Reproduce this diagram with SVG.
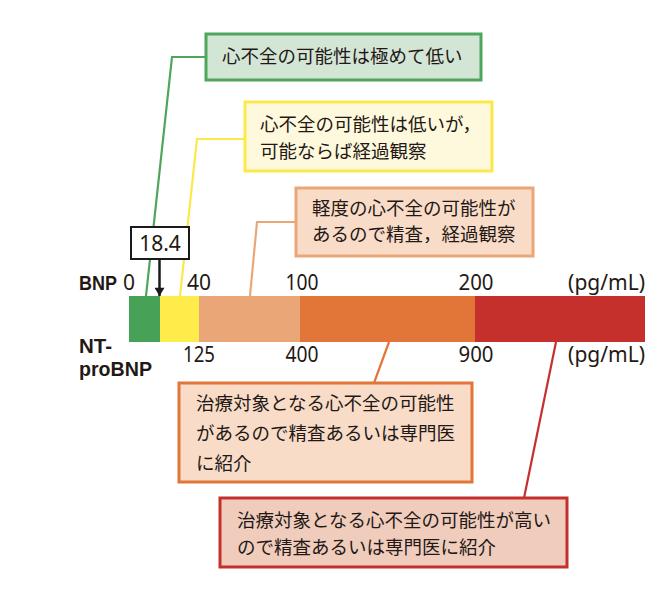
<svg xmlns="http://www.w3.org/2000/svg" width="672" height="592" viewBox="0 0 672 592">
<defs>
<style>
.jp{font-family:"Noto Sans CJK JP","Noto Sans",sans-serif;font-size:18.5px;fill:#231815}
.num{font-family:"Noto Sans","Open Sans",sans-serif;font-size:21px;fill:#231815;text-anchor:middle}
.lab{font-family:"Liberation Sans",Arial,sans-serif;font-size:20px;font-weight:bold;fill:#231815}
.ln{fill:none;stroke-width:2.2}
.box{stroke-width:3}
</style>
<marker id="ah" viewBox="0 0 10 12" refX="10" refY="6" markerWidth="4.4" markerHeight="4" orient="auto" markerUnits="strokeWidth"><path d="M0,0 L10,6 L0,12 z" fill="#1a1a1a"/></marker>
</defs>
<rect width="672" height="592" fill="#ffffff"/>
<g id="connectors">
<polyline class="ln" stroke="#4ea55c" points="206,57 172,57 146,296"/>
<polyline class="ln" stroke="#fbe94a" points="245,139 197,139 180,296"/>
<polyline class="ln" stroke="#eba677" points="296,222 257,222 250,296"/>
<polyline class="ln" stroke="#e27538" points="389,342 374,383"/>
<polyline class="ln" stroke="#c5302c" points="556,342 524,498"/>
<line x1="159.5" y1="259" x2="159.5" y2="296" stroke="#1a1a1a" stroke-width="2.5" marker-end="url(#ah)"/>
</g>
<g id="bar">
<rect x="129" y="296" width="31" height="46" fill="#47a257"/>
<rect x="160" y="296" width="39" height="46" fill="#fdec4a"/>
<rect x="199" y="296" width="101" height="46" fill="#eba677"/>
<rect x="300" y="296" width="175" height="46" fill="#e27538"/>
<rect x="475" y="296" width="170" height="46" fill="#c5302c"/>
</g>
<g id="labels">
<text class="lab" x="79" y="290" textLength="38" lengthAdjust="spacingAndGlyphs">BNP</text>
<text class="num" x="129" y="290">0</text>
<text class="num" x="199" y="290">40</text>
<text class="num" x="302" y="290" textLength="33" lengthAdjust="spacingAndGlyphs">100</text>
<text class="num" x="476" y="290" textLength="35" lengthAdjust="spacingAndGlyphs">200</text>
<text class="num" x="645" y="290" style="text-anchor:end">(pg/mL)</text>
<text class="lab" x="79" y="353" textLength="33" lengthAdjust="spacingAndGlyphs">NT-</text>
<text class="lab" x="79" y="376" textLength="73" lengthAdjust="spacingAndGlyphs">proBNP</text>
<text class="num" x="199" y="362" textLength="32" lengthAdjust="spacingAndGlyphs">125</text>
<text class="num" x="302" y="362" textLength="33" lengthAdjust="spacingAndGlyphs">400</text>
<text class="num" x="476" y="362" textLength="35" lengthAdjust="spacingAndGlyphs">900</text>
<text class="num" x="645" y="362" style="text-anchor:end">(pg/mL)</text>
</g>
<g id="value184">
<rect x="131" y="227" width="58" height="32" fill="#ffffff" stroke="#1a1a1a" stroke-width="2"/>
<text class="num" x="160" y="251">18.4</text>
</g>
<g id="box-green">
<rect class="box" x="206" y="34" width="275" height="46" fill="#d3e6d6" stroke="#4ea55c"/>
<text class="jp" x="222" y="63">心不全の可能性は極めて低い</text>
</g>
<g id="box-yellow">
<rect class="box" x="245" y="102" width="247" height="69" fill="#fef8dc" stroke="#fbe94a"/>
<text class="jp" x="260" y="131">心不全の可能性は低いが，</text>
<text class="jp" x="260" y="158">可能ならば経過観察</text>
</g>
<g id="box-lightorange">
<rect class="box" x="296" y="188" width="237" height="68" fill="#f9dcc8" stroke="#eba677"/>
<text class="jp" x="312" y="215">軽度の心不全の可能性が</text>
<text class="jp" x="312" y="241">あるので精査，経過観察</text>
</g>
<g id="box-orange">
<rect class="box" x="179" y="383" width="293" height="99" fill="#f8dcc8" stroke="#e27538"/>
<text class="jp" x="196" y="410">治療対象となる心不全の可能性</text>
<text class="jp" x="196" y="440">があるので精査あるいは専門医</text>
<text class="jp" x="196" y="470">に紹介</text>
</g>
<g id="box-red">
<rect class="box" x="220" y="498" width="347" height="69" fill="#f0ccbc" stroke="#c5302c"/>
<text class="jp" x="237" y="527">治療対象となる心不全の可能性が高い</text>
<text class="jp" x="237" y="554">ので精査あるいは専門医に紹介</text>
</g>
</svg>
